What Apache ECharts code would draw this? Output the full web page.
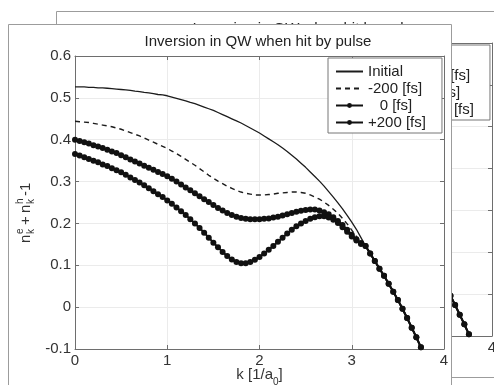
<!DOCTYPE html>
<html>
<head>
<meta charset="utf-8">
<script src="https://cdn.jsdelivr.net/npm/echarts@6/dist/echarts.min.js"></script>
<style>
  html, body { margin: 0; padding: 0; background: #fff; }
  #chart { width: 494px; height: 385px; }
</style>
</head>
<body>
<div id="chart"></div>
<script>
// k grid [1/a0]
const kValues = [0,0.05,0.1,0.15,0.2,0.25,0.3,0.35,0.4,0.45,0.5,0.55,0.6,0.65,0.7,0.75,0.8,0.85,0.9,0.95,
  1,1.05,1.1,1.15,1.2,1.25,1.3,1.35,1.4,1.45,1.5,1.55,1.6,1.65,1.7,1.75,1.8,1.85,1.9,1.95,
  2,2.05,2.1,2.15,2.2,2.25,2.3,2.35,2.4,2.45,2.5,2.55,2.6,2.65,2.7,2.75,2.8,2.85,2.9,2.95,
  3,3.05,3.1,3.15,3.2,3.25,3.3,3.35,3.4,3.45,3.5,3.55,3.6,3.65,3.7,3.75];

// k = 0 .. 3.15
const initialVals = [0.526,0.526,0.526,0.525,0.525,0.524,0.524,0.523,0.522,0.521,
  0.520,0.519,0.518,0.516,0.515,0.513,0.512,0.510,0.508,0.507,
  0.505,0.502,0.499,0.496,0.493,0.489,0.486,0.482,0.478,0.474,
  0.470,0.465,0.460,0.455,0.450,0.445,0.440,0.434,0.428,0.422,
  0.416,0.409,0.402,0.395,0.388,0.380,0.372,0.363,0.354,0.344,
  0.334,0.323,0.312,0.301,0.289,0.276,0.263,0.249,0.235,0.219,
  0.203,0.186,0.166,0.146];

const minus200Vals = [0.444,0.443,0.442,0.441,0.439,0.437,0.435,0.433,0.431,0.428,
  0.425,0.421,0.417,0.413,0.409,0.404,0.399,0.394,0.389,0.384,
  0.379,0.373,0.367,0.360,0.353,0.346,0.339,0.331,0.323,0.315,
  0.308,0.301,0.295,0.289,0.284,0.279,0.275,0.272,0.270,0.268,
  0.268,0.268,0.269,0.270,0.272,0.273,0.274,0.275,0.275,0.274,
  0.272,0.268,0.263,0.258,0.251,0.243,0.234,0.224,0.212,0.199,
  0.184,0.169,0.156,0.146];

const zeroVals = [0.400,0.397,0.394,0.391,0.387,0.384,0.380,0.376,0.372,0.368,
  0.363,0.358,0.353,0.348,0.343,0.338,0.333,0.328,0.323,0.318,
  0.313,0.307,0.300,0.293,0.286,0.279,0.272,0.265,0.258,0.251,
  0.244,0.237,0.231,0.225,0.220,0.216,0.213,0.211,0.210,0.210,
  0.210,0.211,0.212,0.214,0.216,0.219,0.222,0.225,0.228,0.230,
  0.232,0.233,0.233,0.231,0.227,0.222,0.215,0.206,0.196,0.185,
  0.173,0.162,0.153,0.146];

const plus200Vals = [0.366,0.362,0.358,0.354,0.350,0.346,0.341,0.337,0.332,0.327,
  0.322,0.316,0.310,0.304,0.298,0.291,0.284,0.277,0.270,0.263,
  0.255,0.247,0.238,0.229,0.220,0.210,0.200,0.189,0.178,0.166,
  0.154,0.143,0.132,0.122,0.114,0.108,0.105,0.105,0.108,0.113,
  0.120,0.128,0.137,0.146,0.156,0.166,0.176,0.185,0.193,0.200,
  0.206,0.211,0.215,0.217,0.217,0.214,0.209,0.201,0.191,0.180,
  0.169,0.159,0.151,0.146];

// common tail, k = 3.2 .. 3.75 (all curves coincide)
const tailVals = [0.128,0.110,0.092,0.075,0.056,0.037,0.017,-0.004,-0.026,-0.049,-0.072,-0.096];

const seriesNames = ['Initial', '-200 [fs]', '\u2002 0 [fs]', '+200 [fs]'];
const xTicks = { min: 0, max: 4, interval: 1 };
const yTicks = { min: -0.1, max: 0.6, interval: 0.1 };

const FONT = 'Liberation Sans';
const AXIS_COLOR = '#6e6e6e';
const TEXT_COLOR = '#333';

const pairs = vals => vals.concat(tailVals).map((v, i) => [kValues[i], v]);

function makeAxes(gi, z) {
  const base = {
    type: 'value', gridIndex: gi, z: z,
    axisLine: { show: true, onZero: false, lineStyle: { color: AXIS_COLOR, width: 1 } },
    axisTick: { show: true, inside: true, length: 4, lineStyle: { color: AXIS_COLOR } },
  };
  const x = [
    Object.assign({}, base, xTicks, {
      position: 'bottom',
      axisLabel: { color: TEXT_COLOR, fontSize: 15, fontFamily: FONT, margin: 4 },
      splitLine: { show: true, lineStyle: { color: '#ebebeb' } },
      name: 'k [1/a{sub|0}]',
      nameLocation: 'middle',
      nameGap: 14,
      nameMoveOverlap: false,
      nameTextStyle: {
        color: TEXT_COLOR, fontSize: 15, fontFamily: FONT,
        rich: { sub: { fontSize: 10, fontFamily: FONT, color: TEXT_COLOR, lineHeight: 24, verticalAlign: 'bottom' } }
      }
    }),
    Object.assign({}, base, xTicks, {
      position: 'top', axisLabel: { show: false }, splitLine: { show: false }
    })
  ];
  const y = [
    Object.assign({}, base, yTicks, {
      position: 'left',
      axisLabel: { color: TEXT_COLOR, fontSize: 15, fontFamily: FONT, margin: 4 },
      splitLine: { show: true, lineStyle: { color: '#ebebeb' } }
    }),
    Object.assign({}, base, yTicks, {
      position: 'right', axisLabel: { show: false }, splitLine: { show: false }
    })
  ];
  return { x, y };
}

function makeSeries(gi, z) {
  const common = { type: 'line', xAxisIndex: gi * 2, yAxisIndex: gi * 2, z: z, silent: true };
  return [
    Object.assign({}, common, {
      name: seriesNames[0], data: pairs(initialVals), symbol: 'none',
      lineStyle: { color: '#1c1c1c', width: 1.3 }, itemStyle: { color: '#1c1c1c' }
    }),
    Object.assign({}, common, {
      name: seriesNames[1], data: pairs(minus200Vals), symbol: 'none',
      lineStyle: { color: '#1c1c1c', width: 1.4, type: [5, 4] }, itemStyle: { color: '#1c1c1c' }
    }),
    Object.assign({}, common, {
      name: seriesNames[2], data: pairs(zeroVals), symbol: 'circle', symbolSize: 6,
      lineStyle: { color: '#111', width: 2 }, itemStyle: { color: '#111' }
    }),
    Object.assign({}, common, {
      name: seriesNames[3], data: pairs(plus200Vals), symbol: 'circle', symbolSize: 6,
      lineStyle: { color: '#111', width: 2 }, itemStyle: { color: '#111' }
    })
  ];
}

function makeLegend(left, top, z) {
  return {
    data: seriesNames.map((n, i) => (i < 2 ? { name: n, itemStyle: { opacity: 0 } } : { name: n })),
    orient: 'vertical', left: left, top: top, z: z,
    padding: [6, 16, 3, 7], itemWidth: 27, itemHeight: 6, itemGap: 2,
    backgroundColor: '#fff', borderColor: '#777', borderWidth: 1, borderRadius: 0,
    selectedMode: false,
    textStyle: { fontSize: 15, fontFamily: FONT, color: '#222', lineHeight: 15 }
  };
}

const mainAxes = makeAxes(0, 6);
const bgAxes = makeAxes(1, 1);

// y-axis label n_k^e + n_k^h -1, rotated
const yLabelParts = [
  { t: 'n', x: -30, y: 0, s: 15 },
  { t: 'e', x: -21, y: -6, s: 10 },
  { t: 'k', x: -21, y: 5, s: 10 },
  { t: '+', x: -12, y: 0, s: 15 },
  { t: 'n', x: 0, y: 0, s: 15 },
  { t: 'h', x: 9, y: -6, s: 10 },
  { t: 'k', x: 9, y: 5, s: 10 },
  { t: '-1', x: 17, y: 0, s: 15 }
];

const option = {
  backgroundColor: '#fff',
  animation: false,
  title: [
    { text: 'Inversion in QW when hit by pulse', left: 258, top: 34, textAlign: 'center', padding: 0, z: 9,
      textStyle: { fontSize: 15, fontWeight: 'normal', fontFamily: FONT, color: '#222' } },
    { text: 'Inversion in QW when hit by pulse', left: 306, top: 21, textAlign: 'center', padding: 0, z: 1,
      textStyle: { fontSize: 15, fontWeight: 'normal', fontFamily: FONT, color: '#222' } }
  ],
  grid: [
    { left: 75, top: 56, width: 369, height: 293, show: false, outerBoundsMode: 'none' },
    { left: 123, top: 43, width: 369, height: 293, show: false, outerBoundsMode: 'none' }
  ],
  xAxis: mainAxes.x.concat(bgAxes.x),
  yAxis: mainAxes.y.concat(bgAxes.y),
  legend: [makeLegend(328, 58, 9), makeLegend(376, 45, 2)],
  series: makeSeries(0, 8).concat(makeSeries(1, 2)),
  graphic: [
    { type: 'rect', z: 0, silent: true, shape: { x: 56.5, y: 11.5, width: 480, height: 366 },
      style: { fill: '#fff', stroke: '#9c9c9c', lineWidth: 1 } },
    { type: 'rect', z: 5, silent: true, shape: { x: 8.5, y: 24.5, width: 443, height: 400 },
      style: { fill: '#fff', stroke: '#9c9c9c', lineWidth: 1 } },
    { type: 'group', x: 26, y: 213, rotation: Math.PI / 2, z: 9, silent: true,
      children: yLabelParts.map(p => ({
        type: 'text', x: p.x, y: p.y, z: 9,
        style: { text: p.t, fontSize: p.s, fontFamily: FONT, fill: TEXT_COLOR, align: 'left', verticalAlign: 'middle' }
      })) }
  ]
};

const chart = echarts.init(document.getElementById('chart'));
chart.setOption(option);
</script>
</body>
</html>
